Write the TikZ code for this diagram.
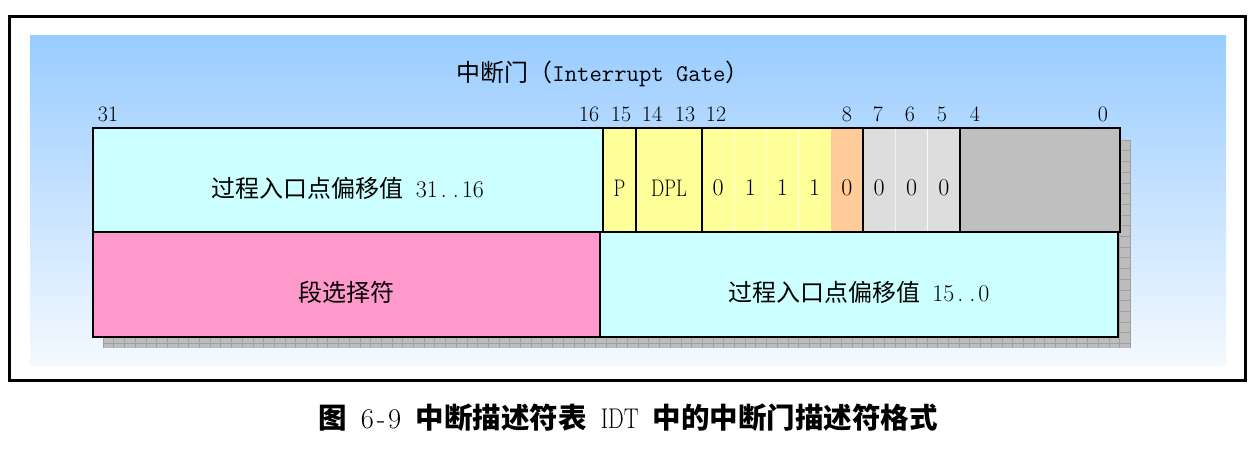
\documentclass[tikz,border=0pt]{standalone}
\usepackage{fontspec}
\newfontfamily\cjk{Noto Sans CJK SC}
\newfontfamily\cond{Latin Modern Roman}[FakeStretch=0.78]
\newcommand\hd{\makebox[0.5em]{.}}
\newcommand\hm{\makebox[0.5em]{-}}
\newcommand\hs{\hspace{0.5em}}
\definecolor{cyanc}{HTML}{CCFFFF}
\definecolor{yellowc}{HTML}{FFFF99}
\definecolor{orangec}{HTML}{FFCC99}
\definecolor{lgrayc}{HTML}{DDDDDD}
\definecolor{dgrayc}{HTML}{BFBFBF}
\definecolor{pinkc}{HTML}{FF99CC}
\definecolor{bgtop}{HTML}{99CCFF}
\definecolor{bgbot}{HTML}{F4F9FF}
\definecolor{shadowc}{HTML}{BCBCBC}
\definecolor{shadowgrid}{HTML}{A0A0A0}
\begin{document}
\begin{tikzpicture}[x=1pt,y=-1pt,
  cell/.style={draw=black,line width=2.5pt,inner sep=0pt,outer sep=0pt,minimum height=104pt},
  sub/.style={draw=white,draw opacity=0.6,line width=0.6pt,inner sep=0pt,outer sep=0pt,minimum height=104pt,minimum width=32.2pt},
  grp/.style={draw=black,line width=2.5pt,fill=none,inner sep=0pt,outer sep=0pt,minimum height=104pt},
  txt/.style={inner sep=0pt,font={\fontsize{24}{28}\selectfont}},
  bit/.style={inner sep=0pt,font={\fontsize{22}{26}\selectfont}},
]
\useasboundingbox (0,0) rectangle (1259,456);
\fill[white] (0,0) rectangle (1259,456);
\draw[line width=3pt] (9.5,16.5) rectangle (1245,380);
\shade[top color=bgtop,bottom color=bgbot] (30,35) rectangle (1226,365);

% shadow
\fill[shadowc] (103,140) rectangle (1131,348);
\begin{scope}
  \clip (103,140) rectangle (1131,348);
  \foreach \x in {103,113.7,...,1135} \draw[shadowgrid,line width=0.6pt] (\x,140) -- (\x,348);
  \foreach \y in {140,150.7,...,350} \draw[shadowgrid,line width=0.6pt] (103,\y) -- (1131,\y);
\end{scope}

% title
\node[txt] (title) at (603,74) {{\cjk 中断门（}\ttfamily Interrupt Gate{\cjk ）}};

% bit numbers
\node[bit] (b31) at (108,114) {31};
\node[bit] (b16) at (589,114) {16};
\node[bit] (b15) at (621,114) {15};
\node[bit] (b14) at (652,114) {14};
\node[bit] (b13) at (685,114) {13};
\node[bit] (b12) at (716,114) {12};
\node[bit] (b8) at (847,114) {8};
\node[bit] (b7) at (878,114) {7};
\node[bit] (b6) at (910,114) {6};
\node[bit] (b5) at (942,114) {5};
\node[bit] (b4) at (975,114) {4};
\node[bit] (b0) at (1103,114) {0};

% row 1 sub cells
\node[sub,fill=yellowc] (y1) at (718.1,180) {};
\node[sub,fill=yellowc] (y2) at (750.3,180) {};
\node[sub,fill=yellowc] (y3) at (782.5,180) {};
\node[sub,fill=yellowc] (y4) at (814.7,180) {};
\node[sub,fill=orangec,draw=none] (o1) at (846.9,180) {};
\node[sub,fill=lgrayc,minimum width=32.33pt] (g1) at (879.2,180) {};
\node[sub,fill=lgrayc,minimum width=32.33pt] (g2) at (911.5,180) {};
\node[sub,fill=lgrayc,minimum width=32.33pt] (g3) at (943.8,180) {};
\node[grp,minimum width=161pt] (ygrp) at (782.5,180) {};
\node[grp,minimum width=97pt] (ggrp) at (911.5,180) {};

% row 1 cells
\node[cell,fill=cyanc,minimum width=510pt] (hi) at (348,180) {};
\node[cell,fill=yellowc,minimum width=33pt] (p) at (619.5,180) {};
\node[cell,fill=yellowc,minimum width=66pt] (dpl) at (669,180) {};
\node[cell,fill=dgrayc,minimum width=160pt] (rsv) at (1040,180) {};

% row 2 cells
\node[cell,fill=pinkc,minimum width=507pt,minimum height=105pt] (sel) at (346.5,284.5) {};
\node[cell,fill=cyanc,minimum width=518pt,minimum height=105pt] (lo) at (859,284.5) {};

% texts
\node[txt,yshift=-8pt] (thi) at (hi.center) {{\cjk 过程入口点偏移值}\hs 31\hd\hd 16};
\node[txt,yshift=-8pt] (tp) at (p.center) {\cond P};
\node[txt,yshift=-8pt] (tdpl) at (dpl.center) {\cond DPL};
\node[txt,yshift=-8pt] (ty1) at (y1.center) {0};
\node[txt,yshift=-8pt] (ty2) at (y2.center) {1};
\node[txt,yshift=-8pt] (ty3) at (y3.center) {1};
\node[txt,yshift=-8pt] (ty4) at (y4.center) {1};
\node[txt,yshift=-8pt] (to1) at (o1.center) {0};
\node[txt,yshift=-8pt] (tg1) at (g1.center) {0};
\node[txt,yshift=-8pt] (tg2) at (g2.center) {0};
\node[txt,yshift=-8pt] (tg3) at (g3.center) {0};
\node[txt,yshift=-8pt] (tsel) at (sel.center) {{\cjk 段选择符}};
\node[txt,yshift=-8pt] (tlo) at (lo.center) {{\cjk 过程入口点偏移值}\hs 15\hd\hd 0};

% caption
\node[inner sep=0pt,font={\fontsize{28.5}{32}\selectfont}] (cap) at (628,418)
  {{\cjk\bfseries 图}\hs 6\hm 9\hs{\cjk\bfseries 中断描述符表}\hs{\cond IDT}\hs{\cjk\bfseries 中的中断门描述符格式}};
\end{tikzpicture}
\end{document}
